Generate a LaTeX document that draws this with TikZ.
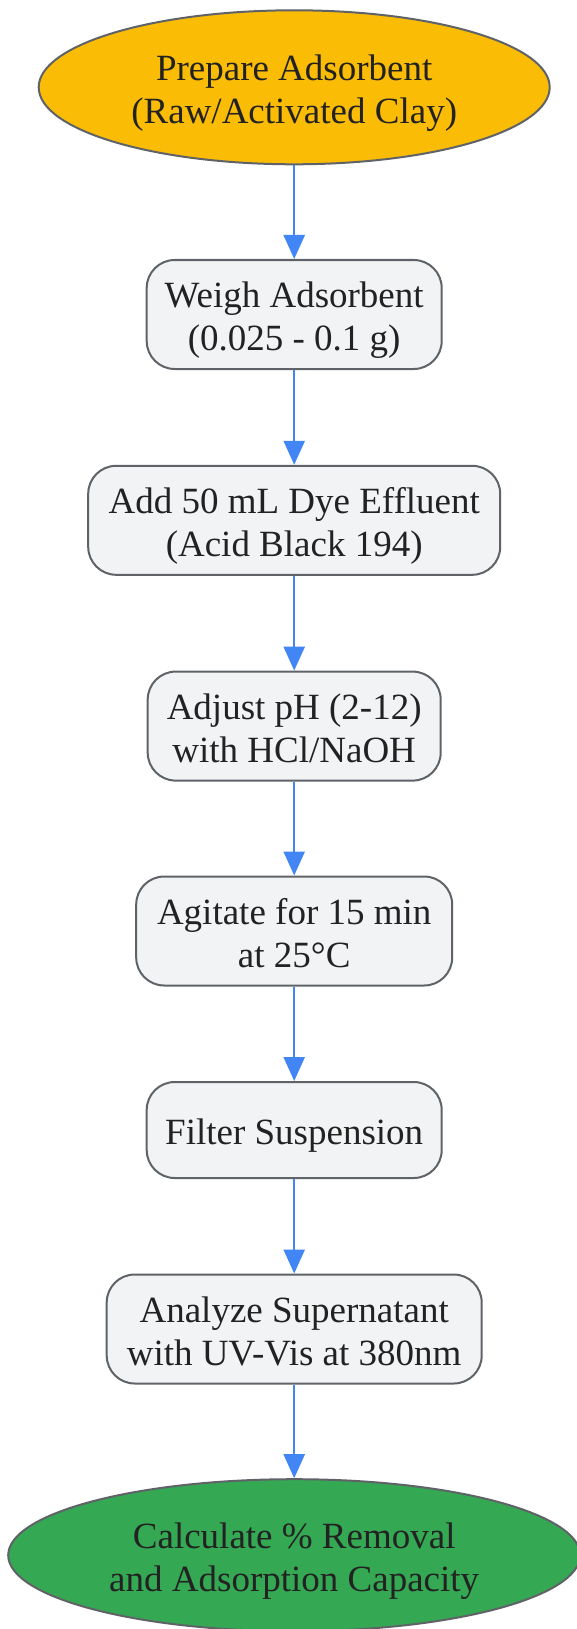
\documentclass[tikz,border=0pt]{standalone}
\usepackage{fontspec}
\setmainfont{Liberation Serif}
\usetikzlibrary{shapes.geometric,arrows.meta}
\definecolor{startc}{HTML}{FBBC05}
\definecolor{endc}{HTML}{34A853}
\definecolor{boxfill}{HTML}{F1F3F4}
\definecolor{edgec}{HTML}{5F6368}
\definecolor{arrowc}{HTML}{4285F4}
\definecolor{txt}{HTML}{222222}
\newcommand{\nodetext}[1]{\raisebox{-6pt}[\height][\depth]{\begin{tabular}{@{}c@{}}#1\end{tabular}}}
\tikzset{
  base/.style={draw=edgec, line width=2pt, text=txt, inner sep=0pt,
    font=\fontsize{37pt}{43pt}\selectfont},
  oval/.style={base, ellipse},
  stepbox/.style={base, fill=boxfill, rounded corners=28pt, minimum height=109pt},
  flow/.style={draw=arrowc, line width=2.5pt, -{Triangle[length=24pt,width=21pt]}}
}
\begin{document}
\begin{tikzpicture}[x=1pt,y=1pt]
\useasboundingbox (0,0) rectangle (577,-1629);
\node[oval, fill=startc, minimum width=511pt, minimum height=154pt] (prep) at (294.2,-87.3) {\nodetext{Prepare Adsorbent\\(Raw/Activated Clay)}};
\node[stepbox, minimum width=295pt] (weigh) at (294.2,-314.5) {\nodetext{Weigh Adsorbent\\(0.025 - 0.1 g)}};
\node[stepbox, minimum width=412pt] (add) at (294.2,-520.3) {\nodetext{Add 50 mL Dye Effluent\\(Acid Black 194)}};
\node[stepbox, minimum width=293pt] (ph) at (294.2,-726.1) {\nodetext{Adjust pH (2-12)\\with HCl/NaOH}};
\node[stepbox, minimum width=316pt] (agit) at (294.2,-931) {\nodetext{Agitate for 15 min\\at 25°C}};
\node[stepbox, minimum width=295pt, minimum height=96pt] (filt) at (294.2,-1130) {\nodetext{Filter Suspension}};
\node[stepbox, minimum width=375pt] (anal) at (294.2,-1329) {\nodetext{Analyze Supernatant\\with UV-Vis at 380nm}};
\node[oval, fill=endc, minimum width=572pt, minimum height=152pt] (calc) at (294.2,-1555.2) {\nodetext{Calculate \% Removal\\and Adsorption Capacity}};
\draw[flow] (prep) -- (weigh);
\draw[flow] (weigh) -- (add);
\draw[flow] (add) -- (ph);
\draw[flow] (ph) -- (agit);
\draw[flow] (agit) -- (filt);
\draw[flow] (filt) -- (anal);
\draw[flow] (anal) -- (calc);
\end{tikzpicture}
\end{document}
